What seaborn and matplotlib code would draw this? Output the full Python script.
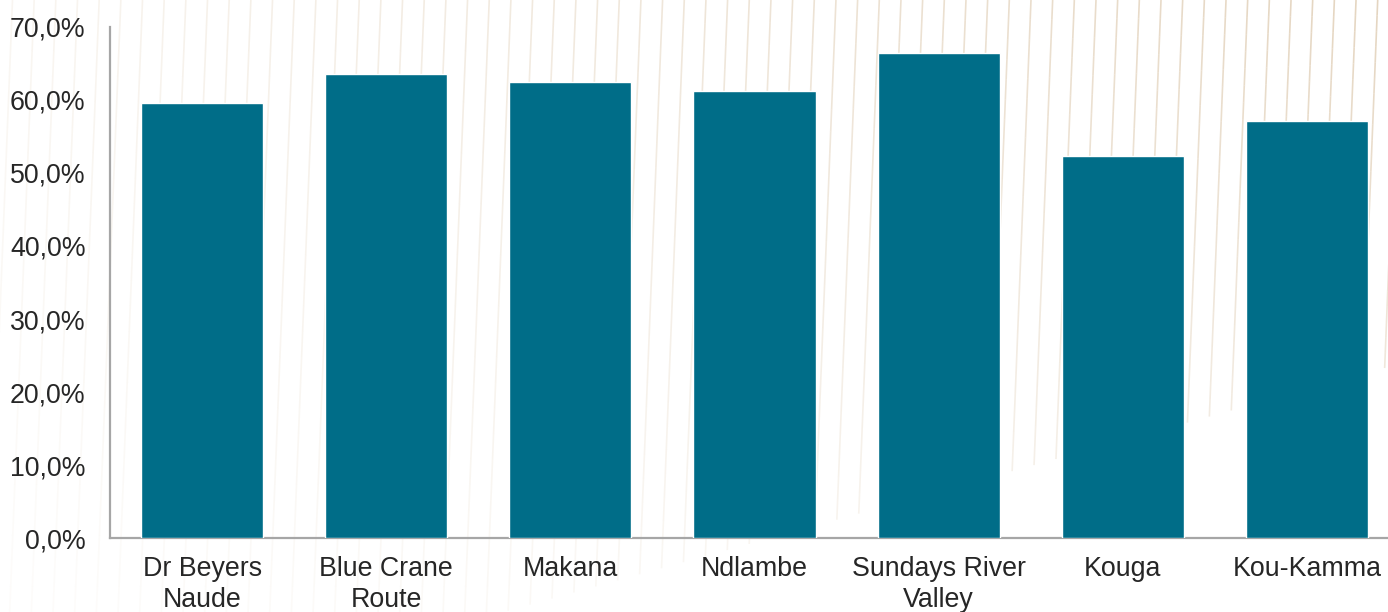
import numpy as np
import pandas as pd
import matplotlib
matplotlib.use("Agg")
import matplotlib.pyplot as plt
from matplotlib.collections import LineCollection
from matplotlib.ticker import FuncFormatter
import seaborn as sns

# ---- data ----
categories = ["Dr Beyers\nNaude", "Blue Crane\nRoute", "Makana", "Ndlambe",
              "Sundays River\nValley", "Kouga", "Kou-Kamma"]
values = [59.6, 63.5, 62.5, 61.2, 66.4, 52.3, 57.1]
yticks = [0, 10, 20, 30, 40, 50, 60, 70]

df = pd.DataFrame({"cat": categories, "val": values})

sns.set_theme(style="white")
plt.rcParams["font.family"] = ["Liberation Sans", "DejaVu Sans"]

W, H = 1388, 612
fig = plt.figure(figsize=(W / 100, H / 100), dpi=100)
fig.patch.set_facecolor("white")

# ---- decorative background lines (figure pixels) ----
segs, cols = [], []
base = np.array(matplotlib.colors.to_rgb("#D9C3A5"))
spacing = 21.67
for k in range(70):
    xt = 12.5 + spacing * k
    if xt > W + 20:
        break
    xb_full = xt - 0.04 * H
    end_y = min(H, 515 - 0.28 * (xb_full - 850))
    n = 24
    ys = np.linspace(0, end_y, n + 1)
    xs = xt - 0.04 * ys
    for i in range(n):
        ym = 0.5 * (ys[i] + ys[i + 1])
        a = (0.15 + 0.55 * (xt / W)) * (1.0 - 0.75 * ym / H)
        a = max(0.05, min(a, 0.85))
        segs.append([(xs[i], H - ys[i]), (xs[i + 1], H - ys[i + 1])])
        cols.append((*base, a))
lc = LineCollection(segs, colors=cols, linewidths=1.2,
                    transform=None, zorder=-5)
fig.add_artist(lc)

# ---- axes ----
ax = fig.add_axes([110 / W, (H - 538.3) / H, 1 - 110 / W, (538.3 - 26.7) / H])
ax.set_facecolor("none")
sns.barplot(data=df, x="cat", y="val", color="#006D88", saturation=1,
            width=0.663, ax=ax, zorder=3)

ax.set_xlim(-0.5, 6.44)
ax.set_ylim(0, 70)
ax.set_yticks(yticks)
ax.yaxis.set_major_formatter(FuncFormatter(lambda v, p: f"{v:.1f}".replace(".", ",") + "%"))
ax.set_xlabel("")
ax.set_ylabel("")
ax.tick_params(axis="y", length=0, pad=17.5, labelsize=19.3, labelcolor="#262626")
ax.tick_params(axis="x", length=0, pad=13, labelsize=19.3, labelcolor="#262626")
for lbl in ax.get_xticklabels():
    lbl.set_linespacing(1.22)

for s in ["top", "right"]:
    ax.spines[s].set_visible(False)
for s in ["left", "bottom"]:
    ax.spines[s].set_color("#A6A6A6")
    ax.spines[s].set_linewidth(1.6)
ax.grid(False)

fig.savefig("out.png", dpi=100, facecolor="white")
